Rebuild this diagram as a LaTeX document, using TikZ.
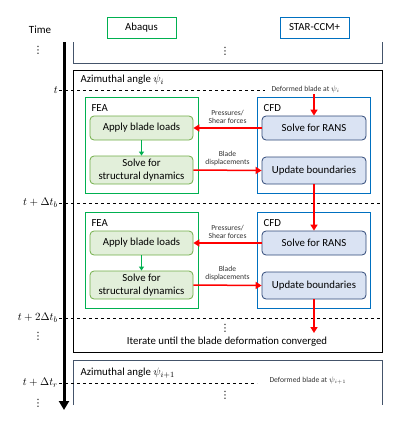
\documentclass[tikz,border=0pt]{standalone}
\usepackage{fontspec}
\setmainfont{Carlito}
\newfontfamily\dotsfont{DejaVu Sans}
\usetikzlibrary{arrows.meta}
\definecolor{feagreen}{RGB}{0,176,80}
\definecolor{cfdblue}{RGB}{0,112,192}
\definecolor{greenfill}{RGB}{226,239,218}
\definecolor{greenline}{RGB}{112,173,71}
\definecolor{bluefill}{RGB}{218,227,243}
\definecolor{blueline}{RGB}{47,72,120}
\definecolor{anglebox}{RGB}{68,84,106}
\tikzset{
  feastep/.style={draw=greenline, fill=greenfill, rounded corners=4pt, line width=0.8pt,
    minimum width=103pt, align=center, font=\fontsize{10.8}{12.5}\selectfont, inner sep=1pt},
  cfdstep/.style={draw=blueline, fill=bluefill, rounded corners=4pt, line width=0.8pt,
    minimum width=104pt, align=center, font=\fontsize{10.8}{12.5}\selectfont, inner sep=1pt},
  solver/.style={draw, line width=1pt, minimum width=113pt, minimum height=96pt},
  coupling/.style={red, line width=1.5pt, -{Triangle[length=6pt,width=7pt]}},
  flow/.style={feagreen, line width=1.2pt, -{Triangle[length=4pt,width=5pt]}},
  small/.style={font=\fontsize{7.6}{8.5}\selectfont, align=center, text=black!80},
  timetick/.style={dashed, line width=0.8pt},
  ticklabel/.style={anchor=east, inner sep=1pt, font=\fontsize{11}{12}\selectfont},
  dots/.style={inner sep=0pt, font=\dotsfont\fontsize{10}{10}\selectfont},
}
\begin{document}
\begin{tikzpicture}[x=1pt, y=-1pt]
  \useasboundingbox (0,0) rectangle (412,423);
  % headers
  \node[font=\fontsize{11}{12}\selectfont] (time) at (40,30) {Time};
  \node[draw=feagreen, line width=1pt, minimum width=69pt, minimum height=21pt,
    font=\fontsize{10.8}{12}\selectfont] (abaqus) at (141.5,27.5) {Abaqus};
  \node[draw=cfdblue, line width=1pt, minimum width=69pt, minimum height=21pt,
    font=\fontsize{10.8}{12}\selectfont] (star) at (314.5,27.5) {STAR-CCM+};
  % azimuthal frames
  \draw[anglebox, line width=0.8pt] (73,42) -- (73,63) -- (382,63) -- (382,42);
  \node[dots] (prevdots) at (225,51) {⋮};
  \draw[line width=0.8pt] (73,70) rectangle (382,352);
  \node[anchor=west, font=\fontsize{10.8}{12}\selectfont] (angi) at (77,80) {Azimuthal angle $\psi_i$};
  \draw[anglebox, line width=0.8pt] (73,405) -- (73,360) -- (382,360) -- (382,405);
  \node[anchor=west, font=\fontsize{10.8}{12}\selectfont] (angnext) at (77,373) {Azimuthal angle $\psi_{i+1}$};
  \node[dots] (nextdots) at (225,395) {⋮};
  % time axis
  \coordinate (tstart) at (64,42);
  \coordinate (tend) at (64,410);
  \draw[line width=3pt, -{Triangle[length=9pt,width=10pt]}] (tstart) -- (tend);
  \node[dots] (topdots) at (38,50) {⋮};
  \node[ticklabel] (t0) at (59,90) {$t$};
  \node[ticklabel] (t1) at (59,203) {$t+\Delta t_b$};
  \node[ticklabel] (t2) at (59,318) {$t+2\Delta t_b$};
  \node[dots] (middots) at (38,336) {⋮};
  \node[ticklabel] (t3) at (59,383) {$t+\Delta t_r$};
  \node[dots] (lowdots) at (38,403) {⋮};
  \draw[timetick] (t0.east) -- (265,90);
  \draw[timetick] (t1.east) -- (382,203);
  \draw[timetick] (t2.east) -- (382,318);
  \draw[timetick] (t3.east) -- (257,383);
  \node[small, anchor=west] (defi) at (268,89) {Deformed blade at $\psi_i$};
  \node[small, anchor=west] (defnext) at (266,381) {Deformed blade at $\psi_{i+1}$};
  % first coupling step
  \node[solver, draw=feagreen] (fea1) at (141.5,145) {};
  \node[solver, draw=cfdblue] (cfd1) at (313.5,145) {};
  \node[anchor=west, font=\fontsize{10.8}{12}\selectfont] (fealabel1) at (88,108) {FEA};
  \node[anchor=west, font=\fontsize{10.8}{12}\selectfont] (cfdlabel1) at (260,108) {CFD};
  \node[feastep, minimum height=24pt] (apply1) at (141.5,128) {Apply blade loads};
  \node[feastep, minimum height=28pt] (solve1) at (141.5,170) {Solve for\\structural dynamics};
  \node[cfdstep, minimum height=24pt] (rans1) at (314,128) {Solve for RANS};
  \node[cfdstep, minimum height=27pt] (update1) at (314,170.5) {Update boundaries};
  % second coupling step
  \node[solver, draw=feagreen] (fea2) at (141.5,260) {};
  \node[solver, draw=cfdblue] (cfd2) at (313.5,260) {};
  \node[anchor=west, font=\fontsize{10.8}{12}\selectfont] (fealabel2) at (88,223) {FEA};
  \node[anchor=west, font=\fontsize{10.8}{12}\selectfont] (cfdlabel2) at (260,223) {CFD};
  \node[feastep, minimum height=24pt] (apply2) at (141.5,243) {Apply blade loads};
  \node[feastep, minimum height=28pt] (solve2) at (141.5,285) {Solve for\\structural dynamics};
  \node[cfdstep, minimum height=24pt] (rans2) at (314,243) {Solve for RANS};
  \node[cfdstep, minimum height=27pt] (update2) at (314,285.5) {Update boundaries};
  % iteration
  \node[dots] (iterdots) at (225,328) {⋮};
  \node[font=\fontsize{10.8}{12}\selectfont] (iterate) at (227,342) {Iterate until the blade deformation converged};
  \coordinate (defstart) at (314,94);
  \coordinate (iterend) at (314,333);
  \begin{scope}
    \draw[coupling] (defstart) -- (rans1.north);
    \draw[coupling] (rans1.west) -- node[small, above] {Pressures/\\Shear forces} (apply1.east);
    \draw[coupling] (solve1.east) -- node[small, above] {Blade\\displacements} (update1.west);
    \draw[coupling] (update1.south) -- (rans2.north);
    \draw[coupling] (rans2.west) -- node[small, above] {Pressures/\\Shear forces} (apply2.east);
    \draw[coupling] (solve2.east) -- node[small, above] {Blade\\displacements} (update2.west);
    \draw[coupling] (update2.south) -- (iterend);
    \draw[flow] (apply1.south) -- (solve1.north);
    \draw[flow] (apply2.south) -- (solve2.north);
  \end{scope}
\end{tikzpicture}
\end{document}
